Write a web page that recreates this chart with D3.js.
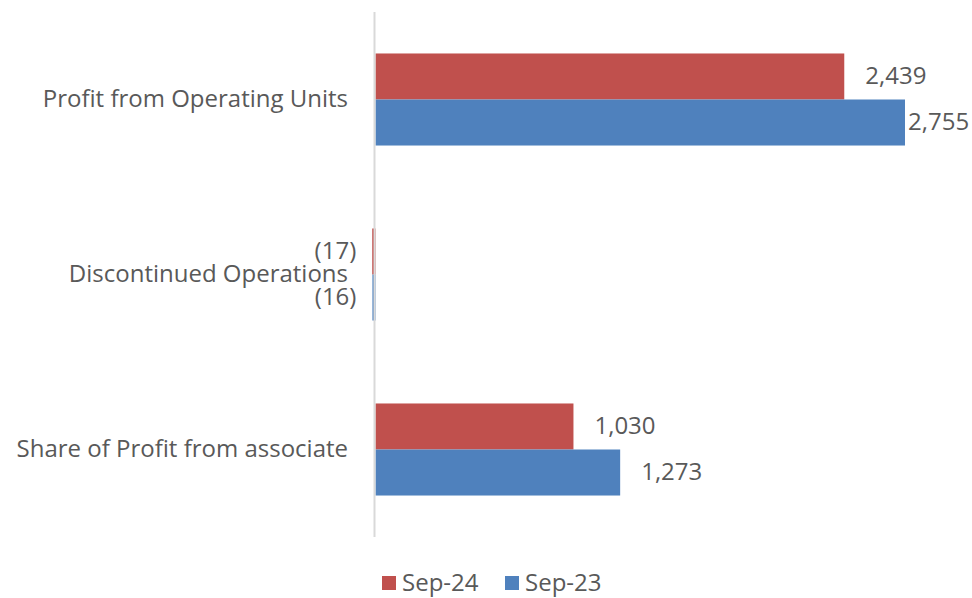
<!DOCTYPE html>
<html><head><meta charset="utf-8">
<script src="https://cdn.jsdelivr.net/npm/d3@7"></script>
<style>body{margin:0;background:#fff}svg{display:block}text{font-family:"Open Sans",sans-serif;fill:#595959}</style>
</head><body><svg id="c" width="972" height="598"></svg>
<script>
const categories = ["Profit from Operating Units","Discontinued Operations","Share of Profit from associate"];
const seriesNames = ["Sep-24","Sep-23"];
const sep24 = [2439,-17,1030];
const sep23 = [2755,-16,1273];
const colors = ["#C0504D","#4F81BD"];
const fmt = v => v < 0 ? "(" + d3.format(",")(-v) + ")" : d3.format(",")(v);
const FS = 24;

const svg = d3.select("#c");
const x = d3.scaleLinear().domain([0, 2755]).range([375.5, 905]);
const y = d3.scaleBand().domain(categories).range([12, 537]).paddingInner(0.474).paddingOuter(0.237);
const ys = d3.scaleBand().domain(seriesNames).range([0, y.bandwidth()]);

const data = [sep24, sep23];
data.forEach((vals, si) => {
  const g = svg.append("g");
  g.selectAll("rect").data(vals).join("rect")
    .attr("x", d => Math.min(x(0), x(d)))
    .attr("width", d => Math.abs(x(d) - x(0)))
    .attr("y", (d, i) => y(categories[i]) + ys(seriesNames[si]))
    .attr("height", ys.bandwidth())
    .attr("fill", colors[si]);
});

// axis line
svg.append("line").attr("x1", x(0)-1).attr("x2", x(0)-1).attr("y1", 12).attr("y2", 537)
  .attr("stroke", "#d9d9d9").attr("stroke-width", 2);

// category labels
svg.selectAll("text.cat").data(categories).join("text").attr("class","cat")
  .attr("x", 348).attr("y", d => y(d) + y.bandwidth()/2)
  .attr("dy", "0.3em").attr("text-anchor", "end").attr("font-size", FS).text(d => d);

// value labels
const maxRight = 972;
data.forEach((vals, si) => {
  vals.forEach((v, i) => {
    const cy = y(categories[i]) + ys(seriesNames[si]) + ys.bandwidth()/2;
    const t = svg.append("text").attr("font-size", FS).attr("dy", "0.33em").text(fmt(v));
    if (v >= 0) {
      let px = x(v) + 21;
      const w = t.node().getComputedTextLength();
      if (px + w > maxRight - 2) px = x(v) + 3;
      t.attr("x", px).attr("y", cy);
    } else {
      t.attr("x", x(v) - 16).attr("text-anchor", "end").attr("y", cy);
    }
  });
});

// legend
const lg = svg.append("g");
const legX = [382, 505];
seriesNames.forEach((n, i) => {
  lg.append("rect").attr("x", legX[i]).attr("y", 576).attr("width", 14).attr("height", 14).attr("fill", colors[i]);
  lg.append("text").attr("x", legX[i] + 20).attr("y", 583).attr("dy", "0.33em").attr("font-size", FS).text(n);
});
</script></body></html>
